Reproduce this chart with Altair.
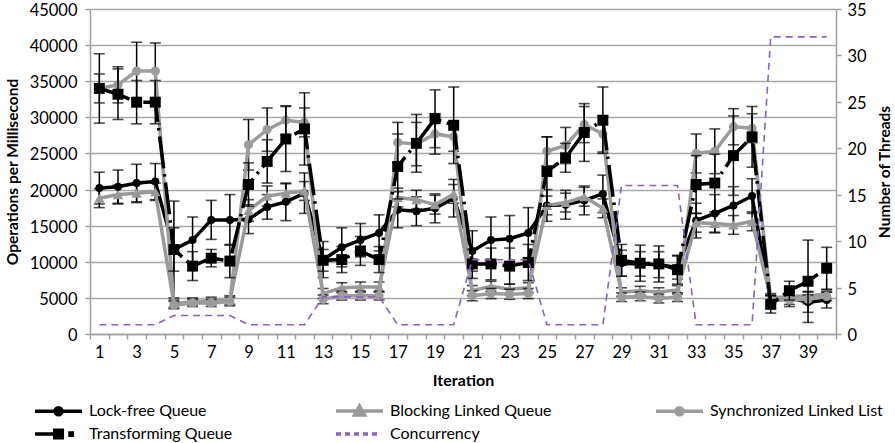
import altair as alt
import pandas as pd

iterations = list(range(1, 41))

series_names = [
    "Lock-free Queue",
    "Blocking Linked Queue",
    "Synchronized Linked List",
    "Transforming Queue",
    "Concurrency",
]

lock_free = [20200, 20400, 20900, 21100, 11700, 13000, 15800, 15800,
             15900, 17600, 18300, 19500, 10300, 12000, 13000, 14000,
             17200, 17000, 17400, 18800, 11500, 13000, 13200, 14000,
             17800, 17900, 18500, 19400, 9800, 9700, 9600, 9200,
             15700, 16700, 17800, 19100, 4500, 5000, 4400, 4700]
lock_free_err = [2200, 2300, 2600, 2500, 6700, 3200, 2700, 3500,
                 2000, 1700, 2600, 2800, 2500, 2700, 2300, 2500,
                 2500, 2000, 2000, 2600, 2800, 3200, 3200, 3500,
                 2200, 2000, 2000, 2600, 1800, 1700, 1800, 1600,
                 2400, 2600, 2600, 2400, 900, 1200, 1400, 1100]

blocking = [18800, 19300, 19500, 19700, 4200, 4500, 4600, 4700,
            17100, 19100, 19500, 19800, 5600, 6400, 6500, 6500,
            18900, 18600, 17900, 19400, 6000, 6600, 6200, 6400,
            17800, 18200, 19000, 17400, 5800, 6000, 5800, 6100,
            15400, 15300, 15100, 15600, 5000, 5200, 5300, 5500]
blocking_err = [1300, 1300, 1300, 1200, 500, 500, 500, 600,
                1500, 1400, 1300, 1300, 700, 700, 700, 700,
                1300, 1300, 1300, 1300, 700, 700, 700, 700,
                1300, 1300, 1300, 1300, 600, 600, 600, 600,
                1300, 1300, 1300, 1300, 600, 600, 600, 600]

synchronized = [34000, 34500, 36400, 36400, 4000, 4300, 4300, 4500,
                26200, 28300, 29600, 29300, 4800, 5300, 5300, 5300,
                26500, 26300, 27700, 27300, 5300, 5600, 5500, 5600,
                25300, 26100, 29000, 27700, 5100, 5200, 4900, 5100,
                25000, 25300, 28700, 28500, 4700, 4700, 4800, 5200]
synchronized_err = [2000, 2500, 4000, 3900, 500, 500, 500, 600,
                    3500, 3000, 2000, 2000, 600, 600, 600, 600,
                    2800, 3000, 2800, 2000, 700, 700, 700, 700,
                    2000, 2500, 2500, 2500, 600, 600, 600, 600,
                    2700, 3100, 2500, 2000, 600, 600, 600, 600]

transforming = [34000, 33200, 32100, 32100, 11700, 9400, 10500, 10100,
                20700, 23900, 27000, 28400, 10200, 10300, 11500, 10300,
                23200, 26400, 29800, 28900, 9700, 9700, 9400, 9900,
                22500, 24400, 27900, 29600, 10200, 9800, 9700, 8900,
                20700, 20900, 24700, 27300, 4100, 6000, 7300, 9100]
transforming_err = [4800, 3500, 3000, 3000, 3000, 2000, 1200, 2300,
                    3000, 3000, 4500, 5000, 1500, 1800, 2000, 1800,
                    4500, 4000, 4000, 5300, 2000, 2200, 2500, 2500,
                    4800, 2000, 4000, 4600, 2200, 2500, 2500, 2000,
                    4000, 4000, 5500, 4200, 1200, 1300, 5700, 2900]

concurrency = [1, 1, 1, 1, 2, 2, 2, 2, 1, 1, 1, 1, 4, 4, 4, 4,
               1, 1, 1, 1, 8, 8, 8, 8, 1, 1, 1, 1, 16, 16, 16, 16,
               1, 1, 1, 1, 32, 32, 32, 32]

colors = ["#000000", "#999999", "#9c9c9c", "#000000", "#8b63b8"]
legend_widths = [3.5, 3.5, 3.5, 3.5, 1.5]

# legend glyphs: a line segment with the series marker on it (unit box is -1..1)
legend_shapes = [
    "M-2.35,0H2.35M-0.35,0A0.35,0.35,0,1,1,0.35,0A0.35,0.35,0,1,1,-0.35,0Z",
    "M-2.35,0H2.35M0,-0.5L0.5,0.38H-0.5Z",
    "M-2.35,0H2.35M-0.35,0A0.35,0.35,0,1,1,0.35,0A0.35,0.35,0,1,1,-0.35,0Z",
    "M-2.35,0H0.3M-0.38,-0.38H0.38V0.38H-0.38ZM1.15,-0.1H1.38V0.12H1.15Z",
    "M-2.35,0H-1.85M-1.45,0H-0.95M-0.55,0H-0.05M0.35,0H0.85M1.25,0H1.75",
]

perf = pd.DataFrame({
    "iter": iterations * 4,
    "series": sum([[s] * 40 for s in series_names[:4]], []),
    "value": lock_free + blocking + synchronized + transforming,
    "err": lock_free_err + blocking_err + synchronized_err + transforming_err,
})
perf["lo"] = perf["value"] - perf["err"]
perf["hi"] = perf["value"] + perf["err"]

threads = pd.DataFrame({"iter": iterations, "threads": concurrency})
legend_df = pd.DataFrame({"series": series_names})

FONT = "Lato"

x_enc = alt.X(
    "iter:O",
    scale=alt.Scale(type="band", domain=iterations, paddingInner=0, paddingOuter=0),
    axis=alt.Axis(
        title="Iteration",
        labelExpr="datum.value % 2 == 1 ? datum.label : ''",
        labelAngle=0,
        labelFontSize=16.5,
        labelPadding=5,
        tickBand="extent",
        tickSize=5,
        tickColor="#a0a0a0",
        tickWidth=1.5,
        domainColor="#a0a0a0",
        domainWidth=1.5,
        titleFontSize=16,
        titleFontWeight="bold",
        titlePadding=12,
    ),
)

y_scale = alt.Scale(domain=[0, 45000])
y_axis = alt.Axis(
    title="Operations per Millisecond",
    values=list(range(0, 45001, 5000)),
    format="d",
    grid=True,
    gridColor="#a8a8a8",
    gridWidth=1.5,
    domainColor="#a0a0a0",
    domainWidth=1.5,
    tickColor="#a0a0a0",
    tickWidth=1.5,
    tickSize=5,
    labelFontSize=16.5,
    labelPadding=8,
    labelOffset=1.5,
    titleFontSize=15.5,
    titleFontWeight="bold",
    titlePadding=9,
)


def series_layers(name, color, shape, size, dash=None):
    d = perf[perf["series"] == name]
    base = alt.Chart(d).encode(x=x_enc)
    line_kw = dict(color=color, strokeWidth=3.5)
    if dash:
        line_kw["strokeDash"] = dash
    err = base.mark_rule(color="black", strokeWidth=1.5).encode(
        y=alt.Y("lo:Q", scale=y_scale, axis=y_axis), y2="hi:Q"
    )
    caps_lo = base.mark_tick(color="black", orient="horizontal", size=11, thickness=1.6).encode(
        y=alt.Y("lo:Q", scale=y_scale, axis=y_axis)
    )
    caps_hi = base.mark_tick(color="black", orient="horizontal", size=11, thickness=1.6).encode(
        y=alt.Y("hi:Q", scale=y_scale, axis=y_axis)
    )
    line = base.mark_line(**line_kw).encode(y=alt.Y("value:Q", scale=y_scale, axis=y_axis))
    pts = base.mark_point(filled=True, opacity=1, color=color, shape=shape, size=size).encode(
        y=alt.Y("value:Q", scale=y_scale, axis=y_axis)
    )
    return [err, caps_lo, caps_hi, line, pts]


layers = []
layers += series_layers("Lock-free Queue", "#000000", "circle", 64)
layers += series_layers("Blocking Linked Queue", "#999999", "triangle-up", 110)
layers += series_layers("Synchronized Linked List", "#9c9c9c", "circle", 85)
layers += series_layers("Transforming Queue", "#000000", "square", 120, dash=[32, 6, 2.5, 6])

left = alt.layer(*layers)

right = alt.Chart(threads).mark_line(color="#8b63b8", strokeWidth=1.6, strokeDash=[7, 5]).encode(
    x=x_enc,
    y=alt.Y(
        "threads:Q",
        scale=alt.Scale(domain=[0, 35]),
        axis=alt.Axis(
            orient="right",
            title="Number of Threads",
            titleAngle=270,
            values=list(range(0, 36, 5)),
            grid=False,
            domainColor="#a0a0a0",
            domainWidth=1.5,
            tickColor="#a0a0a0",
            tickWidth=1.5,
            tickSize=5,
            labelFontSize=16.5,
            labelPadding=6,
            labelOffset=1.5,
            titleFontSize=15.5,
            titleFontWeight="bold",
            titlePadding=26,
        ),
    ),
)

legend_props = alt.Legend(
    title=None,
    orient="none",
    legendX=-43.5,
    legendY=390,
    columns=3,
    direction="horizontal",
    gridAlign="each",
    columnPadding=96,
    rowPadding=-2,
    symbolSize=400,
    symbolOpacity=1,
    labelOffset=18.5,
    labelFontSize=16,
    labelFont=FONT,
    labelColor="black",
    labelLimit=300,
    padding=0,
)

legend_layer = alt.Chart(legend_df).mark_point(filled=True, opacity=0).encode(
    x=alt.value(0),
    y=alt.value(0),
    fill=alt.Fill("series:N", scale=alt.Scale(domain=series_names, range=colors), legend=legend_props),
    stroke=alt.Stroke("series:N", scale=alt.Scale(domain=series_names, range=colors), legend=legend_props),
    strokeWidth=alt.StrokeWidth(
        "series:N", scale=alt.Scale(domain=series_names, range=legend_widths), legend=legend_props
    ),
    shape=alt.Shape("series:N", scale=alt.Scale(domain=series_names, range=legend_shapes), legend=legend_props),
)

chart = (
    alt.layer(left, right, legend_layer)
    .resolve_scale(y="independent")
    .properties(
        width=746,
        height=325,
        autosize=alt.AutoSizeParams(type="none"),
        padding={"left": 90, "top": 9, "right": 59, "bottom": 109},
        background="white",
    )
    .configure_view(stroke=None)
    .configure(font=FONT)
    .configure_axis(labelColor="black", titleColor="black", labelFont=FONT, titleFont=FONT)
)

chart.save("out.html", embed_options={"renderer": "svg", "actions": False})
